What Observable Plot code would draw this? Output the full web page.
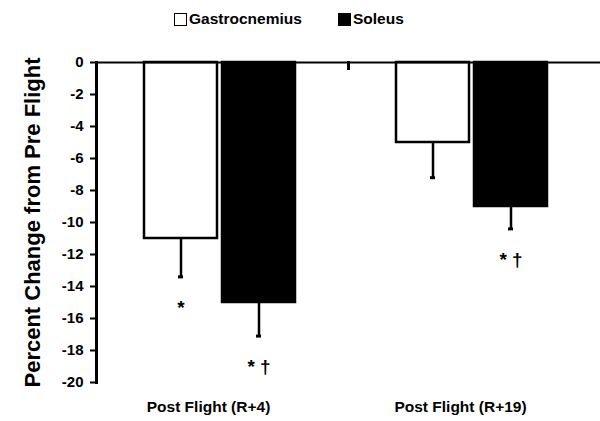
<!DOCTYPE html>
<html>
<head>
<meta charset="utf-8">
<script src="https://cdn.jsdelivr.net/npm/d3@7"></script>
<script src="https://cdn.jsdelivr.net/npm/@observablehq/plot@0.6"></script>
<style>
  html, body { margin: 0; padding: 0; background: #fff; }
  #wrap { position: relative; width: 600px; height: 421px; font-family: "Liberation Sans", Arial, sans-serif; }
  #legend { position: absolute; left: 0; top: 0; width: 600px; height: 40px; font-weight: bold; font-size: 15.5px; }
  .item { position: absolute; top: 10px; display: flex; align-items: center; }
  .sw { width: 11px; height: 11px; border: 1.5px solid #000; margin-right: 2px; }
</style>
</head>
<body>
<div id="wrap">
  <div id="chart"></div>
  <div id="legend"></div>
</div>
<script>
// ---- data ----
const categories = ["Post Flight (R+4)", "Post Flight (R+19)"];
const series = ["Gastrocnemius", "Soleus"];
const seriesColors = ["#ffffff", "#000000"];
const gastrocMean = [-11, -5];
const gastrocErr = [2.4, 2.2];
const soleusMean = [-15, -9];
const soleusErr = [2.1, 1.4];
const gastrocSig = ["*", ""];
const soleusSig = ["* †", "* †"];
const yTicks = [0, -2, -4, -6, -8, -10, -12, -14, -16, -18, -20];
const yLabel = "Percent Change from Pre Flight";

const rows = [];
categories.forEach((c, i) => {
  rows.push({cat: c, series: series[0], value: gastrocMean[i], err: gastrocErr[i], sig: gastrocSig[i]});
  rows.push({cat: c, series: series[1], value: soleusMean[i], err: soleusErr[i], sig: soleusSig[i]});
});
rows.forEach(d => d.low = d.value - d.err);

const font = "Liberation Sans, Arial, sans-serif";

const chart = Plot.plot({
  width: 600,
  height: 421,
  marginTop: 62,
  marginBottom: 39,
  marginLeft: 96,
  marginRight: 0,
  style: {fontFamily: font, background: "white", color: "black"},
  fx: {domain: categories, padding: 0, label: null},
  x: {domain: series, paddingInner: 0.064, paddingOuter: 0.647, align: 0.473, axis: null},
  y: {domain: [-20, 0], label: null},
  color: {domain: series, range: seriesColors},
  marks: [
    Plot.barY(rows, {fx: "cat", x: "series", y1: 0, y2: "value", fill: "series", stroke: "black", strokeWidth: 2.5}),
    Plot.ruleX(rows, {fx: "cat", x: "series", y1: "value", y2: "low", stroke: "black", strokeWidth: 2.5}),
    Plot.tickY(rows, {fx: "cat", x: "series", y: "low", stroke: "black", strokeWidth: 3, insetLeft: 34, insetRight: 34}),
    Plot.text(rows.filter(d => d.sig), {fx: "cat", x: "series", y: "low", text: "sig", dy: 31, fontSize: 19, fontWeight: "bold", fill: "black"}),
    Plot.ruleY([0], {stroke: "black", strokeWidth: 2}),
    Plot.axisY({ticks: yTicks, tickFormat: d => String(d), tickSize: 6, tickPadding: 7, strokeWidth: 2, fontSize: 15, fontWeight: "bold", label: null}),
    Plot.text([{cat: categories[0], label: yLabel}], {fx: "cat", text: "label", frameAnchor: "left", textAnchor: "middle", rotate: -90, dx: -64, fontSize: 22, fontWeight: "bold", fill: "black"}),
    Plot.axisFx({anchor: "bottom", tickSize: 0, tickPadding: 18, fontSize: 15.5, fontWeight: "bold", dx: -14, label: null}),
    Plot.frame({anchor: "left", fx: [categories[0]], stroke: "black", strokeWidth: 3}),
    Plot.frame({anchor: "left", fx: [categories[1]], stroke: "black", strokeWidth: 3, insetBottom: 314})
  ]
});
document.getElementById("chart").appendChild(chart);

// legend
const legend = document.getElementById("legend");
const legendLeft = [174, 338];
series.forEach((s, i) => {
  const item = document.createElement("div");
  item.className = "item";
  item.style.left = legendLeft[i] + "px";
  const sw = document.createElement("span");
  sw.className = "sw";
  sw.style.background = seriesColors[i];
  const t = document.createElement("span");
  t.textContent = s;
  item.appendChild(sw);
  item.appendChild(t);
  legend.appendChild(item);
});
</script>
</body>
</html>
